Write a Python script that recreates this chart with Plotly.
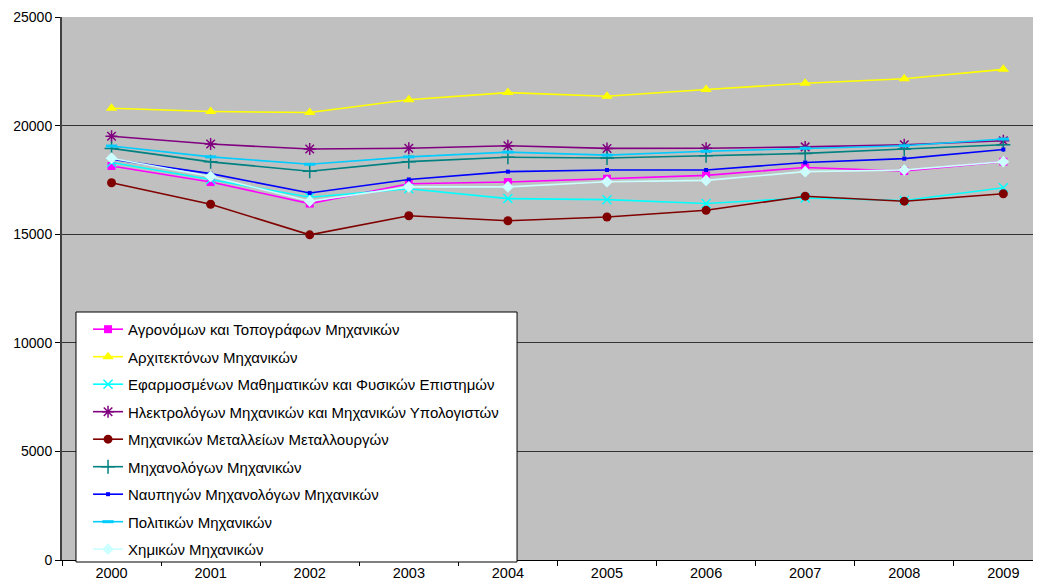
import plotly.graph_objects as go

years = ["2000", "2001", "2002", "2003", "2004", "2005", "2006", "2007", "2008", "2009"]

agronomon = [18140, 17400, 16410, 17320, 17400, 17555, 17710, 18070, 17910, 18340]
architektonon = [20800, 20650, 20600, 21190, 21520, 21350, 21660, 21950, 22160, 22590]
efarmosmenon = [18300, 17520, 16700, 17090, 16640, 16590, 16410, 16670, 16550, 17140]
ilektrologon = [19510, 19150, 18920, 18960, 19070, 18950, 18960, 19020, 19120, 19300]
metalleion = [17370, 16380, 14970, 15850, 15620, 15790, 16100, 16750, 16520, 16860]
mihanologon = [18950, 18330, 17900, 18340, 18545, 18510, 18610, 18720, 18920, 19120]
naupigon = [18450, 17790, 16900, 17520, 17880, 17955, 17955, 18300, 18480, 18900]
politikon = [19060, 18560, 18220, 18560, 18780, 18640, 18820, 18960, 19070, 19380]
himikon = [18500, 17660, 16520, 17180, 17180, 17415, 17480, 17880, 17955, 18340]

y_ticks = [0, 5000, 10000, 15000, 20000, 25000]

series = [
    ("Αγρονόμων και Τοπογράφων Μηχανικών", agronomon, "#FF00FF", "square", 8, 1),
    ("Αρχιτεκτόνων Μηχανικών", architektonon, "#FFFF00", "triangle-up", 10, 1),
    ("Εφαρμοσμένων Μαθηματικών και Φυσικών Επιστημών", efarmosmenon, "#00FFFF", "x-thin-open", 9, 1.5),
    ("Ηλεκτρολόγων Μηχανικών και Μηχανικών Υπολογιστών", ilektrologon, "#800080", "asterisk-open", 10, 1.5),
    ("Μηχανικών Μεταλλείων Μεταλλουργών", metalleion, "#800000", "circle", 9, 1),
    ("Μηχανολόγων Μηχανικών", mihanologon, "#008080", "cross-thin-open", 10, 1.5),
    ("Ναυπηγών Μηχανολόγων Μηχανικών", naupigon, "#0000FF", "square", 4, 1),
    ("Πολιτικών Μηχανικών", politikon, "#00CCFF", "line-ew-open", 8, 3),
    ("Χημικών Μηχανικών", himikon, "#CCFFFF", "diamond", 9, 1),
]

fig = go.Figure()
for i, (name, vals, color, sym, size, lw) in enumerate(series):
    if sym.endswith("open"):
        marker = dict(symbol=sym, size=size, color=color, line=dict(color=color, width=lw))
    else:
        marker = dict(symbol=sym, size=size, color=color, line=dict(width=0))
    fig.add_trace(go.Scatter(
        x=years, y=vals, name=name, mode="lines+markers",
        line=dict(color=color, width=1.6),
        marker=marker, legendgroup=f"g{i}",
    ))

# legend frame (white box with black border)
fig.add_shape(
    type="rect", xref="paper", yref="paper",
    x0=0.0143, x1=0.4648, y0=-0.0037, y1=0.4567,
    fillcolor="white", line=dict(color="black", width=1), layer="above",
)

fig.update_layout(
    width=1033, height=579,
    margin=dict(l=54, r=0, t=9, b=27),
    paper_bgcolor="white",
    plot_bgcolor="#C0C0C0",
    font=dict(family="Liberation Sans, Arial, sans-serif", size=14, color="black"),
    showlegend=True,
    legend=dict(
        x=0.0266, y=0.455, xanchor="left", yanchor="top",
        bgcolor="rgba(0,0,0,0)", borderwidth=0,
        font=dict(size=15, color="black"),
        traceorder="grouped", tracegroupgap=5,
        itemwidth=30,
    ),
    xaxis=dict(
        type="category", range=[-0.5, 9.38],
        tickson="boundaries", ticks="outside", ticklen=5, tickcolor="black",
        showgrid=False, showline=True, linecolor="black", linewidth=1,
        tickfont=dict(size=14.5), zeroline=False, automargin=False,
    ),
    yaxis=dict(
        range=[0, 25000], tickvals=y_ticks, ticktext=[str(v) for v in y_ticks],
        ticks="outside", ticklen=5, tickcolor="black",
        showgrid=True, gridcolor="#333333", gridwidth=1,
        showline=True, linecolor="#404040", linewidth=2,
        zeroline=False, tickfont=dict(size=14), automargin=False,
    ),
)

fig.write_html("out.html")
